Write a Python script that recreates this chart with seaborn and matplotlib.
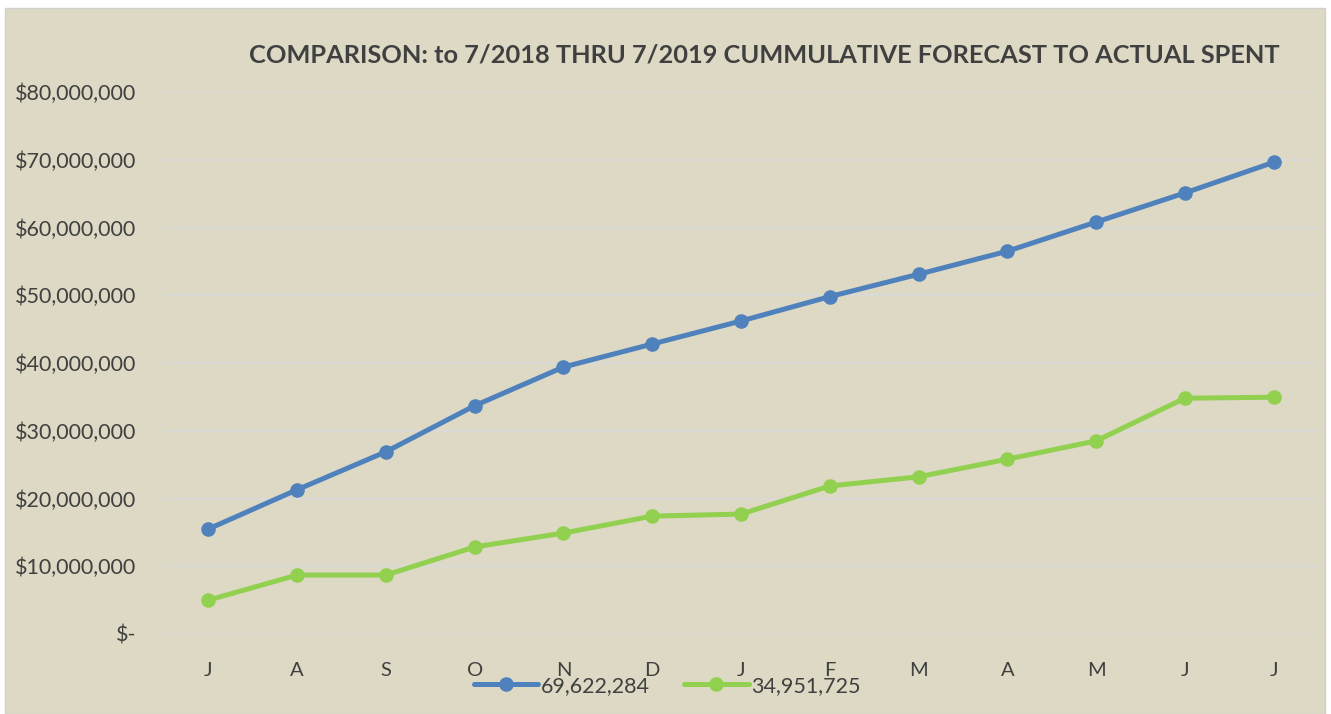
import seaborn as sns
import pandas as pd, numpy as np
import matplotlib.pyplot as plt
from matplotlib.patches import Rectangle
from matplotlib.ticker import FuncFormatter

months = ['J', 'A', 'S', 'O', 'N', 'D', 'J', 'F', 'M', 'A', 'M', 'J', 'J']
forecast = [15.5, 21.3, 26.9, 33.7, 39.4, 42.8, 46.2, 49.8, 53.1, 56.5, 60.8, 65.1, 69.622284]
actual = [5.0, 8.7, 8.7, 12.85, 14.9, 17.4, 17.7, 21.85, 23.2, 25.8, 28.5, 34.8, 34.951725]
series_names = ['69,622,284', '34,951,725']
colors = ['#4F81BD', '#92D050']
title = 'COMPARISON: to 7/2018 THRU 7/2019 CUMMULATIVE FORECAST TO ACTUAL SPENT'

# armar tabla larga para seaborn
df = pd.DataFrame({
    'pos': list(range(len(months))) * 2,
    'value': [v * 1e6 for v in forecast] + [v * 1e6 for v in actual],
    'series': [series_names[0]] * len(months) + [series_names[1]] * len(months),
})

sns.set_style('white')
plt.rcParams['font.family'] = ['Lato', 'DejaVu Sans']
text_color = '#404040'

W, H = 1331, 714
fig = plt.figure(figsize=(W / 100, H / 100), dpi=100, facecolor='white')

# fondo del area del grafico
bg = Rectangle((5 / W, 0), 1320 / W, 706 / H, transform=fig.transFigure,
               facecolor='#DDD9C4', edgecolor='#D0D0D0', lw=1.0, zorder=-5)
fig.patches.append(bg)

ax = fig.add_axes([164 / W, (H - 634) / H, (1318 - 164) / W, (634 - 92) / H])
ax.set_facecolor('none')
ax.set_zorder(2)

sns.lineplot(data=df, x='pos', y='value', hue='series', palette=colors,
             marker='o', markersize=10.5, markeredgewidth=0, linewidth=3.6, ax=ax,
             legend=False, zorder=3)

ax.set_xlim(-0.5, len(months) - 0.5)
ax.set_ylim(0, 80e6)
ax.set_yticks(np.arange(0, 80e6 + 1, 10e6))
ax.set_xticks(range(len(months)))
ax.set_xticklabels(months)
ax.yaxis.set_major_formatter(FuncFormatter(lambda v, p: '$-' if v == 0 else '${:,.0f}'.format(v)))
ax.grid(axis='y', color='#D9D9D9', lw=1.2)
ax.set_axisbelow(True)
for s in ax.spines.values():
    s.set_visible(False)
ax.tick_params(axis='both', length=0, colors=text_color)
ax.tick_params(axis='y', pad=20, labelsize=15.5)
ax.tick_params(axis='x', pad=20, labelsize=14.5)
ax.set_xlabel('')
ax.set_ylabel('')

fig.text(764 / W, (H - 55) / H, title, ha='center', va='center', fontsize=18.3,
         fontweight='bold', color=text_color)

# leyenda abajo
handles = [plt.Line2D([], [], color=c, lw=3.6, marker='o', markersize=10.5, markeredgewidth=0)
           for c in colors]
fig.legend(handles, series_names, loc='center', bbox_to_anchor=(667 / W, (H - 686) / H),
           ncol=2, frameon=False, fontsize=15.5, labelcolor=text_color, handlelength=3.0,
           handletextpad=0.1, columnspacing=1.6)

fig.savefig('out.png', dpi=100, facecolor='white')
